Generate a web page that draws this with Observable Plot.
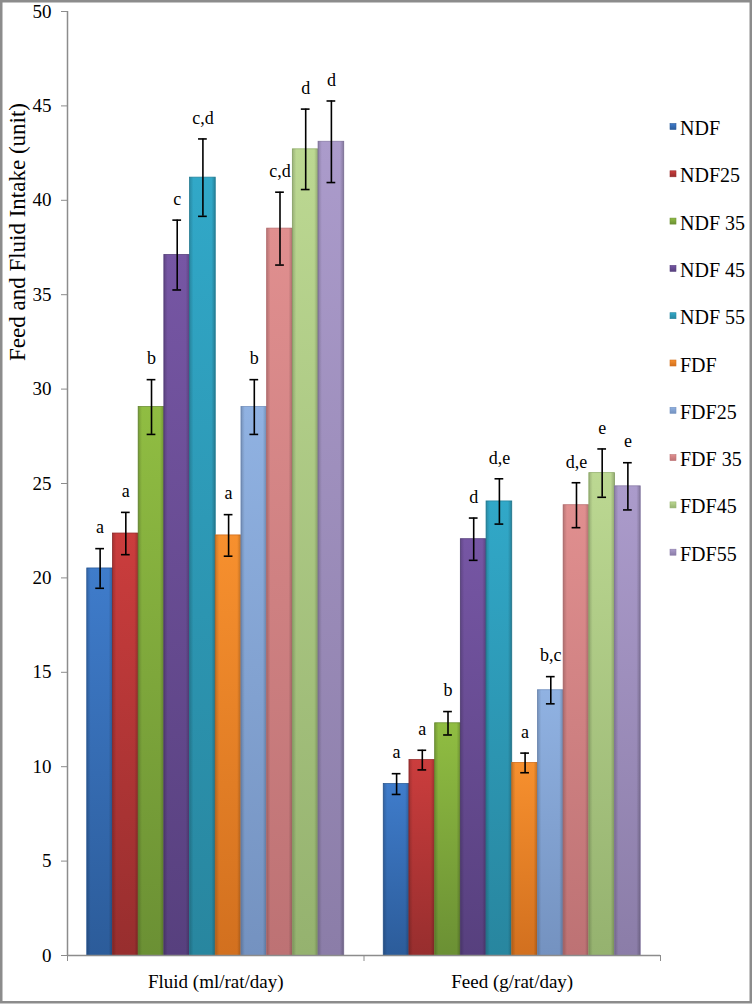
<!DOCTYPE html>
<html><head><meta charset="utf-8">
<script src="https://cdn.jsdelivr.net/npm/d3@7"></script>
<script src="https://cdn.jsdelivr.net/npm/@observablehq/plot@0.6"></script>
<style>
html,body{margin:0;padding:0;background:#fff;}
#chart{width:756px;height:1005px;position:relative;}
#chart svg, #chart svg text, #chart svg g{font-family:"Liberation Serif","Times New Roman",serif !important;}
</style></head><body><div id="chart"></div>
<script>
// ---- data ----
const groups = ["Fluid (ml/rat/day)", "Feed (g/rat/day)"];
const series = ["NDF", "NDF25", "NDF 35", "NDF 45", "NDF 55", "FDF", "FDF25", "FDF 35", "FDF45", "FDF55"];
const fluidValues = [20.5, 22.35, 29.05, 37.1, 41.2, 22.25, 29.05, 38.5, 42.7, 43.1];
const fluidErrors = [1.05, 1.12, 1.45, 1.85, 2.05, 1.1, 1.45, 1.93, 2.13, 2.16];
const fluidLetters = ["a", "a", "b", "c", "c,d", "a", "b", "c,d", "d", "d"];
const feedValues = [9.08, 10.35, 12.3, 22.05, 24.05, 10.2, 14.05, 23.85, 25.55, 24.85];
const feedErrors = [0.55, 0.52, 0.62, 1.12, 1.2, 0.52, 0.72, 1.19, 1.28, 1.25];
const feedLetters = ["a", "a", "b", "d", "d,e", "a", "b,c", "d,e", "e", "e"];
const yTicks = [0, 5, 10, 15, 20, 25, 30, 35, 40, 45, 50];
const yTitle = "Feed and Fluid Intake (unit)";

// ---- styles ----
const baseColors   = ["#3870b8", "#b83636", "#80aa3c", "#6a4c94", "#2d9ab8", "#ec8429", "#84a6d6", "#d38484", "#aecb84", "#9e8ebe"];
const topColors    = ["#3f7ccb", "#cb3d3d", "#90bd42", "#7656a4", "#31a8c8", "#f7902e", "#90b2e2", "#e08f8f", "#bcd892", "#ab9bcb"];
const bottomColors = ["#2c5c9a", "#972e2e", "#6b9034", "#57407e", "#28869f", "#d2701f", "#7492c0", "#bd7274", "#95b26f", "#8b7da8"];
const font = "'Liberation Serif', 'Times New Roman', serif";

const valuesBy = [fluidValues, feedValues];
const errorsBy = [fluidErrors, feedErrors];
const lettersBy = [fluidLetters, feedLetters];
const data = [];
groups.forEach((g, gi) => series.forEach((s, i) => data.push({
  group: g, series: s, value: valuesBy[gi][i], err: errorsBy[gi][i], letter: lettersBy[gi][i]
})));

const outer = d3.scaleBand().domain(groups).range([0, groups.length]).paddingInner(0.1333).paddingOuter(0.0667);
const inner = d3.scaleBand().domain(series).range([0, outer.bandwidth()]);
const x1 = d => outer(d.group) + inner(d.series);
const x2 = d => x1(d) + inner.bandwidth();
const xc = d => x1(d) + inner.bandwidth() / 2;
const capHalf = inner.bandwidth() * 0.17;

const plot = Plot.plot({
  width: 756, height: 1005,
  marginLeft: 67, marginRight: 96, marginTop: 11, marginBottom: 50,
  style: {fontFamily: font, fontSize: "19px", color: "#000", background: "transparent", overflow: "visible"},
  x: {type: "linear", domain: [0, groups.length], axis: null},
  y: {domain: [0, 50], axis: null},
  color: {domain: series, range: baseColors},
  marks: [
    Plot.rectY(data, {x1, x2, y: "value", fill: "series"}),
    Plot.ruleX(data, {x: xc, y1: d => d.value - d.err, y2: d => d.value + d.err, stroke: "#000", strokeWidth: 1.6}),
    Plot.ruleY(data, {y: d => d.value + d.err, x1: d => xc(d) - capHalf, x2: d => xc(d) + capHalf, stroke: "#000", strokeWidth: 1.6}),
    Plot.ruleY(data, {y: d => d.value - d.err, x1: d => xc(d) - capHalf, x2: d => xc(d) + capHalf, stroke: "#000", strokeWidth: 1.6}),
    Plot.text(data, {x: xc, y: d => d.value + d.err, text: "letter", dy: -21, fontSize: 18, fill: "#000"}),
    Plot.ruleX([0], {stroke: "#8c8c8c", strokeWidth: 1.5}),
    Plot.ruleY([0], {stroke: "#8c8c8c", strokeWidth: 1.5}),
    Plot.axisY({ticks: yTicks, tickSize: 6, tickPadding: 10, stroke: "#8c8c8c", fill: "#000", label: null, tickFormat: d3.format("d"), fontSize: 19}),
    Plot.axisX({ticks: d3.range(groups.length + 1), tickSize: 6, tickFormat: () => "", stroke: "#8c8c8c", label: null}),
    Plot.axisX({ticks: groups.map(g => outer(g) + outer.bandwidth() / 2), tickSize: 0, tickPadding: 19,
                tickFormat: v => groups[Math.floor(v)], label: null, fontSize: 19, fill: "#000"})
  ]
});

document.getElementById("chart").appendChild(plot);

// ---- gradients on bars ----
const svg = d3.select(plot);
const defs = svg.insert("defs", ":first-child");
series.forEach((s, i) => {
  const lg = defs.append("linearGradient").attr("id", "g" + i).attr("x1", 0).attr("y1", 0).attr("x2", 0).attr("y2", 1);
  lg.append("stop").attr("offset", "0%").attr("stop-color", topColors[i]);
  lg.append("stop").attr("offset", "100%").attr("stop-color", bottomColors[i]);
  const hg = defs.append("linearGradient").attr("id", "h" + i).attr("x1", 0).attr("y1", 0).attr("x2", 1).attr("y2", 0);
  hg.append("stop").attr("offset", "0%").attr("stop-color", "#000").attr("stop-opacity", 0.18);
  hg.append("stop").attr("offset", "15%").attr("stop-color", "#000").attr("stop-opacity", 0);
  hg.append("stop").attr("offset", "85%").attr("stop-color", "#000").attr("stop-opacity", 0);
  hg.append("stop").attr("offset", "100%").attr("stop-color", "#000").attr("stop-opacity", 0.22);
});
const colorIndex = new Map(baseColors.map((c, i) => [c.toLowerCase(), i]));
svg.selectAll('g[aria-label="rect"] rect').each(function () {
  const el = d3.select(this);
  const i = colorIndex.get((el.attr("fill") || "").toLowerCase());
  if (i === undefined) return;
  el.attr("fill", `url(#g${i})`).attr("stroke", bottomColors[i]).attr("stroke-width", 0.8);
  const shade = this.cloneNode();
  d3.select(shade).attr("fill", `url(#h${i})`).attr("stroke", "none");
  this.parentNode.insertBefore(shade, this.nextSibling);
});

// ---- y title ----
svg.append("text")
  .attr("transform", "translate(25,232) rotate(-90)")
  .attr("text-anchor", "middle").attr("font-size", 23).attr("fill", "#000")
  .text(yTitle);

// ---- legend ----
const leg = svg.append("g").attr("font-size", 20).attr("fill", "#000").attr("text-anchor", "start");
series.forEach((s, i) => {
  const cy = 126.5 + i * 47.3;
  leg.append("rect").attr("x", 670).attr("y", cy - 3).attr("width", 6).attr("height", 6)
    .attr("fill", `url(#g${i})`).attr("stroke", bottomColors[i]).attr("stroke-width", 0.6);
  leg.append("text").attr("x", 680).attr("y", cy + 8.5).attr("text-anchor", "start").text(s);
});

// ---- chart border ----
svg.append("rect").attr("x", 1.25).attr("y", 1.25).attr("width", 749.5).attr("height", 1001)
  .attr("fill", "none").attr("stroke", "#8c8c8c").attr("stroke-width", 2.5);
</script></body></html>
